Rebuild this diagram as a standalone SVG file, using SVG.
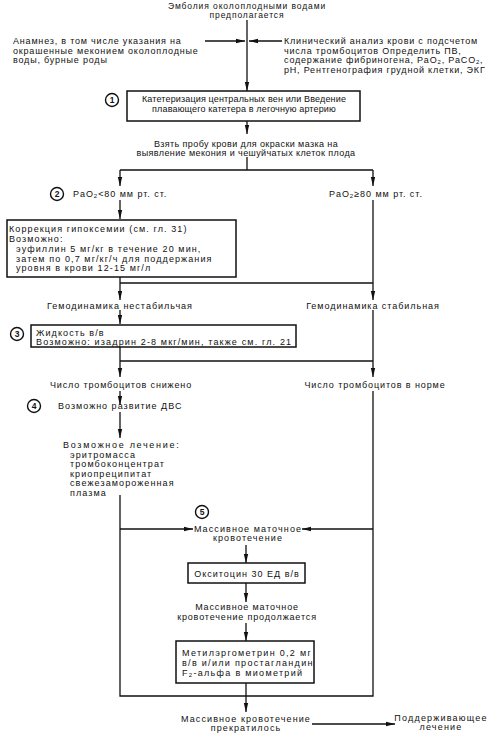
<svg xmlns="http://www.w3.org/2000/svg" width="497" height="739" viewBox="0 0 497 739">
<defs>
<marker id="ah" markerUnits="userSpaceOnUse" markerWidth="10" markerHeight="6" refX="9" refY="3" orient="auto">
<path d="M0,0.8 L9,3 L0,5.2 Z" fill="#111"/>
</marker>
<style>
text{font-family:"Liberation Sans",Arial,sans-serif;font-size:9px;fill:#111}
.c{text-anchor:middle}
.sub{font-size:6px}
.box{fill:#fff;stroke:#111;stroke-width:1.5}
.ln{fill:none;stroke:#111;stroke-width:1.3}
.ar{fill:none;stroke:#111;stroke-width:1.3;marker-end:url(#ah)}
.num{fill:#fff;stroke:#111;stroke-width:1.4}
.nt{font-weight:bold;font-size:8.5px;text-anchor:middle;letter-spacing:0}
</style>
</defs>
<rect width="497" height="739" fill="#fff"/>
<g id="connectors">
<path class="ar" d="M247,20 V91"/>
<path class="ar" d="M205,41 H245"/>
<path class="ar" d="M282,41 H249"/>
<path class="ar" d="M247,121 V134"/>
<path class="ln" d="M247,157 V170 M120,170 H373"/>
<path class="ar" d="M120,170 V186"/>
<path class="ar" d="M373,170 V186"/>
<path class="ar" d="M120,200 V219"/>
<path class="ar" d="M373,200 V300"/>
<path class="ar" d="M120,277 V300"/>
<path class="ln" d="M120,283 H373"/>
<path class="ar" d="M120,310 V324"/>
<path class="ar" d="M373,310 V377"/>
<path class="ar" d="M120,347 V377"/>
<path class="ln" d="M120,361 H373"/>
<path class="ar" d="M120,391 V405"/>
<path class="ar" d="M120,412 V438"/>
<path class="ln" d="M120,495 V696 H373 V391"/>
<path class="ar" d="M120,529 H193"/>
<path class="ar" d="M373,529 H302"/>
<path class="ar" d="M246,545 V563"/>
<path class="ar" d="M246,583 V602"/>
<path class="ar" d="M246,623 V641"/>
<path class="ar" d="M246,683 V712"/>
<path class="ar" d="M312,724 H395"/>
</g>
<g id="n-title" style="letter-spacing:0.9px">
<text class="c" x="247" y="9" style="font-size:8.5px">Эмболия околоплодными водами</text>
<text class="c" x="247" y="18" style="font-size:8.5px">предполагается</text>
</g>
<g id="n-anamnez" style="letter-spacing:0.8px">
<text x="13" y="44">Анамнез, в том числе указания на</text>
<text x="13" y="54">окрашенные меконием околоплодные</text>
<text x="13" y="63">воды, бурные роды</text>
</g>
<g id="n-analiz" style="letter-spacing:0.8px">
<text x="284" y="44">Клинический анализ крови с подсчетом</text>
<text x="284" y="54">числа тромбоцитов Определить ПВ,</text>
<text x="284" y="63">содержание фибриногена, PaO<tspan class="sub" dy="1.2">2</tspan><tspan dy="-1.2">, PaCO</tspan><tspan class="sub" dy="1.2">2</tspan><tspan dy="-1.2">,</tspan></text>
<text x="284" y="73">pH, Рентгенография грудной клетки, ЭКГ</text>
</g>
<g id="n-1">
<circle class="num" cx="112" cy="100" r="6.5"/>
<text class="nt" x="112" y="103">1</text>
<rect class="box" x="127" y="91" width="233" height="30"/>
<text class="c" x="244" y="102" style="letter-spacing:0.15px">Катетеризация центральных вен или Введение</text>
<text class="c" x="244" y="112" style="letter-spacing:0.15px">плавающего катетера в легочную артерию</text>
</g>
<g id="n-proba" style="letter-spacing:0.4px">
<text class="c" x="246" y="147">Взять пробу крови для окраски мазка на</text>
<text class="c" x="246" y="155.5">выявление мекония и чешуйчатых клеток плода</text>
</g>
<g id="n-2">
<circle class="num" cx="57" cy="194" r="6.5"/>
<text class="nt" x="57" y="197">2</text>
<text x="73" y="197" style="letter-spacing:0.95px">PaO<tspan class="sub" dy="1.2">2</tspan><tspan dy="-1.2">&lt;80 мм рт. ст.</tspan></text>
</g>
<g id="n-pao2hi">
<text x="329" y="197" style="letter-spacing:0.95px">PaO<tspan class="sub" dy="1.2">2</tspan><tspan dy="-1.2">≥80 мм рт. ст.</tspan></text>
</g>
<g id="n-korr" style="letter-spacing:1.1px">
<rect class="box" x="7" y="220" width="229" height="57"/>
<text x="9" y="232">Коррекция гипоксемии (см. гл. 31)</text>
<text x="9" y="241.5">Возможно:</text>
<text x="16" y="252">эуфиллин 5 мг/кг в течение 20 мин,</text>
<text x="16" y="261.5">затем по 0,7 мг/кг/ч для поддержания</text>
<text x="16" y="271">уровня в крови 12-15 мг/л</text>
</g>
<g id="n-gemo-ns">
<text class="c" x="120" y="309" style="letter-spacing:1px">Гемодинамика нестабильчая</text>
</g>
<g id="n-gemo-s">
<text class="c" x="373" y="309" style="letter-spacing:0.95px">Гемодинамика стабильная</text>
</g>
<g id="n-3">
<circle class="num" cx="17" cy="334" r="6.5"/>
<text class="nt" x="17" y="337">3</text>
<rect class="box" x="31" y="325" width="265" height="22"/>
<text x="36" y="335.5" style="letter-spacing:1.1px">Жидкость в/в</text>
<text x="36" y="344.5" style="letter-spacing:1.15px">Возможно: изадрин 2-8 мкг/мин, также см. гл. 21</text>
</g>
<g id="n-tromb-low">
<text class="c" x="121" y="388" style="letter-spacing:0.85px">Число тромбоцитов снижено</text>
</g>
<g id="n-tromb-norm">
<text class="c" x="375" y="388" style="letter-spacing:0.9px">Число тромбоцитов в норме</text>
</g>
<g id="n-4">
<circle class="num" cx="34" cy="406" r="6.5"/>
<text class="nt" x="34" y="409">4</text>
<text x="58" y="409" style="letter-spacing:1px">Возможно развитие ДВС</text>
</g>
<g id="n-lech" style="letter-spacing:1.1px">
<text x="63" y="448" style="letter-spacing:1.7px">Возможное лечение:</text>
<text x="70" y="457.5">эритромасса</text>
<text x="70" y="467">тромбоконцентрат</text>
<text x="70" y="476.5">криопреципитат</text>
<text x="70" y="486">свежезамороженная</text>
<text x="70" y="495.5">плазма</text>
</g>
<g id="n-5">
<circle class="num" cx="202" cy="512" r="6.5"/>
<text class="nt" x="202" y="515">5</text>
<text class="c" x="248" y="532" style="letter-spacing:1.1px">Массивное маточное</text>
<text class="c" x="248" y="541" style="letter-spacing:1.1px">кровотечение</text>
</g>
<g id="n-oksi">
<rect class="box" x="188" y="563" width="117" height="20"/>
<text class="c" x="247" y="577" style="letter-spacing:1px">Окситоцин 30 ЕД в/в</text>
</g>
<g id="n-prod" style="letter-spacing:0.85px">
<text class="c" x="247" y="610">Массивное маточное</text>
<text class="c" x="247" y="620">кровотечение продолжается</text>
</g>
<g id="n-metil" style="letter-spacing:1.3px">
<rect class="box" x="176" y="641" width="138" height="42"/>
<text x="182" y="656">Метилэргометрин 0,2 мг</text>
<text x="182" y="666">в/в и/или простагландин</text>
<text x="182" y="676">F<tspan class="sub" dy="1.2">2</tspan><tspan dy="-1.2">-альфа в миометрий</tspan></text>
</g>
<g id="n-stop" style="letter-spacing:1.1px">
<text class="c" x="246" y="722">Массивное кровотечение</text>
<text class="c" x="246" y="731">прекратилось</text>
</g>
<g id="n-podd" style="letter-spacing:1.2px">
<text class="c" x="441" y="721">Поддерживающее</text>
<text class="c" x="441" y="730">лечение</text>
</g>
</svg>
